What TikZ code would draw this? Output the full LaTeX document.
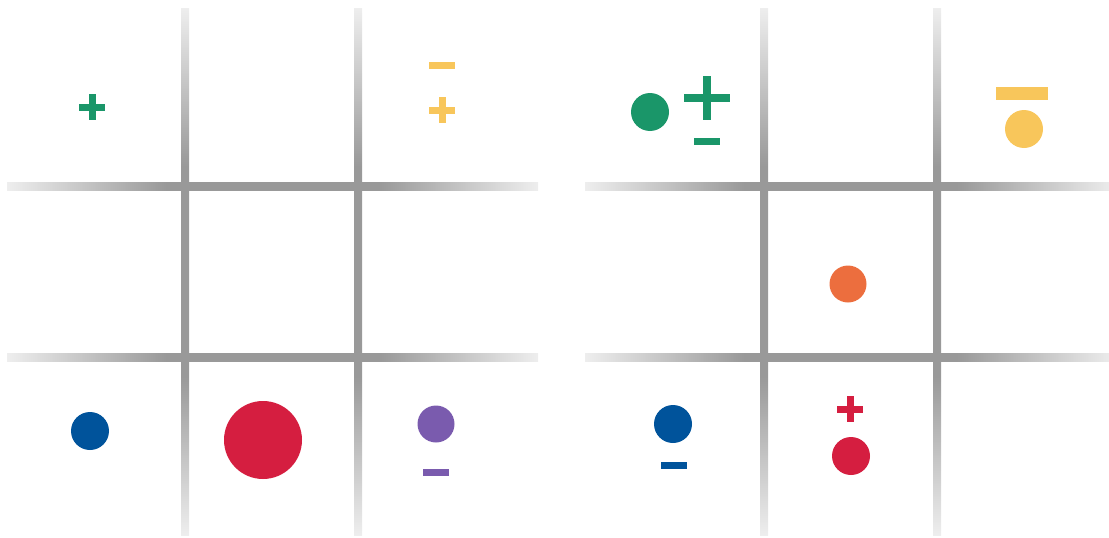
\documentclass[tikz,border=0pt]{standalone}
\usepackage{tikz}
\usepackage{xcolor}
\usetikzlibrary{shapes,positioning}
\definecolor{gridgray}{RGB}{153,153,153}
\definecolor{gridlt}{RGB}{238,238,238}
\definecolor{sgreen}{RGB}{26,150,105}
\definecolor{syellow}{RGB}{248,198,91}
\definecolor{sblue}{RGB}{0,83,155}
\definecolor{sred}{RGB}{213,30,64}
\definecolor{spurple}{RGB}{122,91,174}
\definecolor{sorange}{RGB}{236,110,62}
\pgfdeclarehorizontalshading{hfade}{100bp}{color(0bp)=(gridlt); color(25bp)=(gridlt);
  color(40bp)=(gridgray); color(60bp)=(gridgray); color(75bp)=(gridlt); color(100bp)=(gridlt)}
\pgfdeclareverticalshading{vfade}{100bp}{color(0bp)=(gridlt); color(25bp)=(gridlt);
  color(40bp)=(gridgray); color(60bp)=(gridgray); color(75bp)=(gridlt); color(100bp)=(gridlt)}
\tikzset{
  hline/.style={shading=hfade},
  vline/.style={shading=vfade},
  dot/.style={circle, inner sep=0pt, outer sep=0pt, minimum size=38pt},
  bigdot/.style={dot, minimum size=78pt},
  sgn/.style={line width=7pt},
  bigsgn/.style={line width=8pt}
}
\begin{document}
\begin{tikzpicture}[x=1pt, y=-1pt]
\clip (0,0) rectangle (1109,538);

%% grids
\foreach \ox/\hx in {0/7,579/585}{
  \foreach \x in {185,358}
    \shade[vline] ({\x+\ox-4},8) rectangle ({\x+\ox+4},535);
  \foreach \y in {186,357}
    \shade[hline] (\hx,{\y-4}) rectangle ({\hx+531},{\y+4});
}

%% left board
\draw[sgn, sgreen] (79,107) -- (105,107) (92,94) -- (92,120);
\draw[sgn, syellow] (429,65) -- (455,65);
\draw[sgn, syellow] (429,110) -- (455,110) (442,97) -- (442,123);
\node[dot, fill=sblue]     (lblue)   at (90,431)  {};
\node[bigdot, fill=sred]   (lred)    at (263,440) {};
\node[dot, fill=spurple, minimum size=37pt] (lpurple) at (436,424) {};
\draw[sgn, spurple] (423,472) -- (449,472);

%% right board
\node[dot, fill=sgreen]    (rgreen)  at (650,112) {};
\draw[bigsgn, sgreen] (684,98) -- (730,98) (707,76) -- (707,120);
\draw[sgn, sgreen] (694,141) -- (720,141);
\draw[line width=13pt, syellow] (996,93) -- (1048,93);
\node[dot, fill=syellow]   (ryellow) at (1024,129) {};
\node[dot, fill=sorange, minimum size=37pt] (rorange) at (848,284) {};
\node[dot, fill=sblue]     (rblue)   at (673,424) {};
\draw[sgn, sblue] (661,465) -- (687,465);
\draw[sgn, sred] (837,409) -- (863,409) (850,396) -- (850,422);
\node[dot, fill=sred]      (rred)    at (851,456) {};

\end{tikzpicture}
\end{document}
